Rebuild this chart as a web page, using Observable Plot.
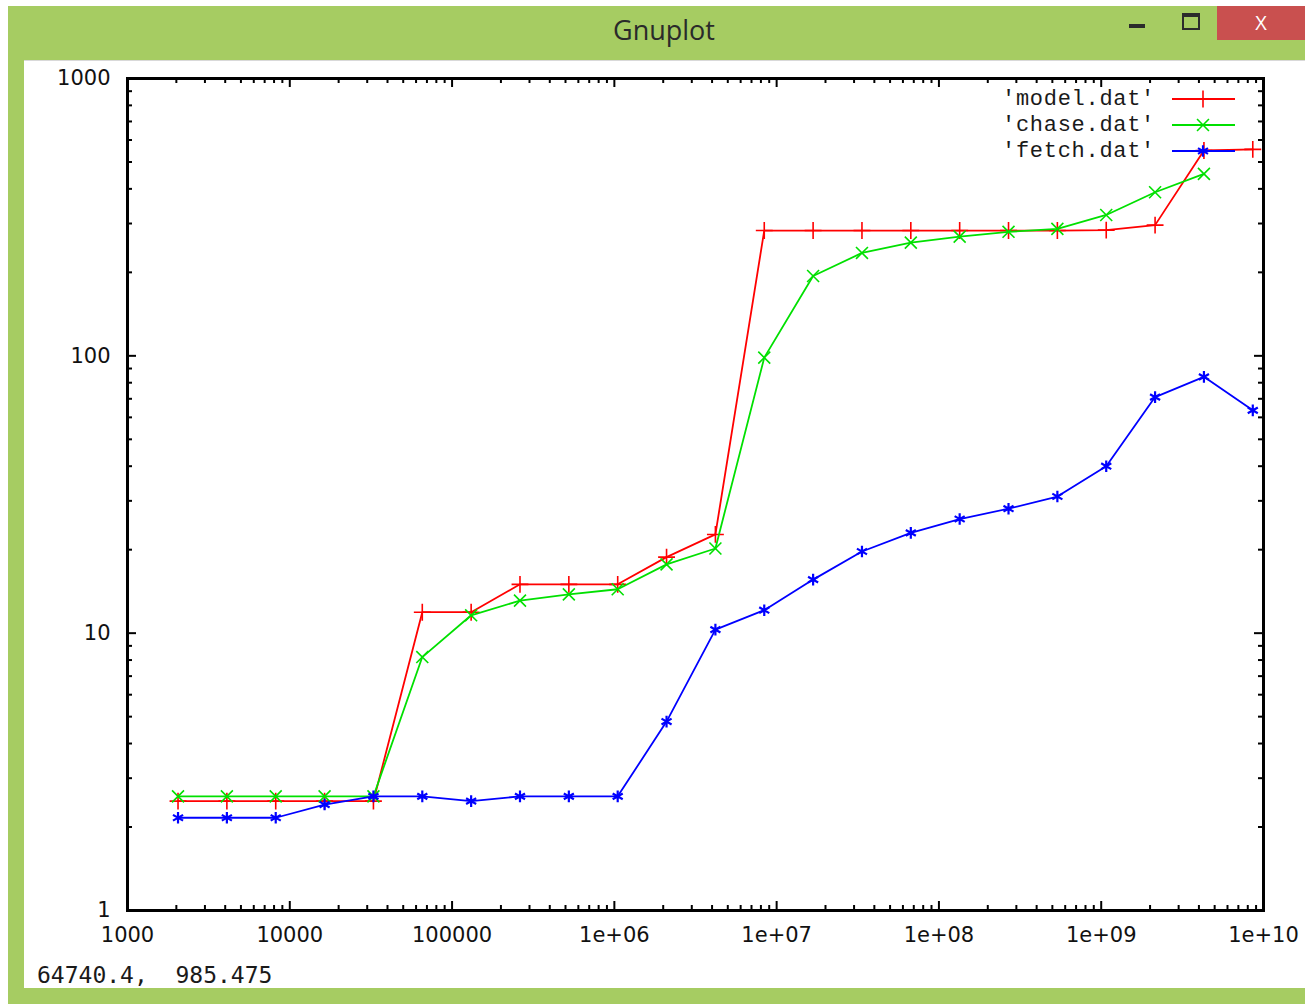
<!DOCTYPE html>
<html>
<head>
<meta charset="utf-8">
<script src="https://cdn.jsdelivr.net/npm/d3@7"></script>
<script src="https://cdn.jsdelivr.net/npm/@observablehq/plot@0.6"></script>
<style>
  html, body { margin: 0; padding: 0; background: #ffffff; }
  body { width: 1305px; height: 1005px; position: relative; overflow: hidden; font-family: "DejaVu Sans", sans-serif; }
  #win { position: absolute; left: 8px; top: 6px; width: 1297px; height: 998px; background: #a6cc62; }
  #title { position: absolute; left: 514px; top: 12px; width: 300px; text-align: center; font-family: "Open Sans", sans-serif; font-size: 27px; color: #2a2a2a; line-height: 36px; }
  #min { position: absolute; left: 1129px; top: 24px; width: 16px; height: 4px; background: #2b2b2b; }
  #max { position: absolute; left: 1182px; top: 13px; width: 14px; height: 11px; border: 2px solid #2b2b2b; border-top-width: 4px; }
  #close { position: absolute; left: 1217px; top: 6px; width: 88px; height: 34px; background: #c9504f; color: #ffffff; font-family: "Open Sans", sans-serif; font-size: 20px; text-align: center; line-height: 33px; }
  #content { position: absolute; left: 24px; top: 60px; width: 1281px; height: 928px; background: #ffffff; border-top: 1px solid #d9d9d9; box-sizing: border-box; }
  #plot { position: absolute; left: 24px; top: 60px; }
  #status { position: absolute; left: 37px; top: 962px; font-family: "DejaVu Sans Mono", monospace; font-size: 23px; color: #1a1a1a; white-space: pre; }
  #legend { position: absolute; left: 0; top: 0; pointer-events: none; }
</style>
</head>
<body>
<div id="win"></div>
<div id="title">Gnuplot</div>
<div id="min"></div>
<div id="max"></div>
<div id="close">X</div>
<div id="content"></div>
<div id="plot"></div>
<div id="status">64740.4,  985.475</div>
<svg id="legend" width="1305" height="1005"></svg>
<script>
// ---- data ----
const sizes = [2048, 4096, 8192, 16384, 32768, 65536, 131072, 262144, 524288, 1048576,
  2097152, 4194304, 8388608, 16777216, 33554432, 67108864, 134217728, 268435456,
  536870912, 1073741824, 2147483648, 4294967296, 8589934592];
const modelVals = [2.48, 2.48, 2.48, 2.48, 2.48, 11.9, 11.9, 15, 15, 15,
  18.8, 22.7, 283, 283, 283, 283, 283, 283, 283, 284, 296, 550, 555];
const chaseVals = [2.58, 2.58, 2.58, 2.58, 2.58, 8.2, 11.6, 13.1, 13.8, 14.4,
  17.7, 20.2, 98.5, 194, 235, 256, 269, 280, 287, 322, 389, 453];
const fetchVals = [2.16, 2.16, 2.16, 2.41, 2.58, 2.58, 2.48, 2.58, 2.58, 2.58,
  4.8, 10.3, 12.1, 15.6, 19.7, 23.0, 25.8, 28.1, 31.1, 40, 71, 84, 63.6];

const seriesNames = ["'model.dat'", "'chase.dat'", "'fetch.dat'"];
const seriesColors = ["#ff0000", "#00e000", "#0000ff"];
const seriesSymbols = ["plus", "times", "asterisk"];

const xTickValues = [1e3, 1e4, 1e5, 1e6, 1e7, 1e8, 1e9, 1e10];
const xTickLabels = ["1000", "10000", "100000", "1e+06", "1e+07", "1e+08", "1e+09", "1e+10"];
const yTickValues = [1, 10, 100, 1000];
const yTickLabels = ["1", "10", "100", "1000"];

// ---- build tables ----
const toRows = (vals) => vals.map((v, i) => ({x: sizes[i], y: v}));
const series = [modelVals, chaseVals, fetchVals].map(toRows);

const xMinor = d3.scaleLog().domain([1e3, 1e10]).ticks().filter(d => !xTickValues.includes(d));
const yMinor = d3.scaleLog().domain([1, 1000]).ticks().filter(d => !yTickValues.includes(d));
const xLab = new Map(xTickValues.map((v, i) => [v, xTickLabels[i]]));
const yLab = new Map(yTickValues.map((v, i) => [v, yTickLabels[i]]));

const W = 1281, H = 928, mL = 103, mR = 42, mT = 18, mB = 78;
const fw = W - mL - mR, fh = H - mT - mB;
const majorLen = 9, minorLen = 5;

const tickStyle = {stroke: "#000", strokeWidth: 2};
const marks = [
  // ticks (inward, mirrored)
  Plot.tickX(xTickValues, {x: d => d, insetTop: fh - majorLen, ...tickStyle}),
  Plot.tickX(xTickValues, {x: d => d, insetBottom: fh - majorLen, ...tickStyle}),
  Plot.tickX(xMinor, {x: d => d, insetTop: fh - minorLen, ...tickStyle}),
  Plot.tickX(xMinor, {x: d => d, insetBottom: fh - minorLen, ...tickStyle}),
  Plot.tickY(yTickValues, {y: d => d, insetRight: fw - majorLen, ...tickStyle}),
  Plot.tickY(yTickValues, {y: d => d, insetLeft: fw - majorLen, ...tickStyle}),
  Plot.tickY(yMinor, {y: d => d, insetRight: fw - minorLen, ...tickStyle}),
  Plot.tickY(yMinor, {y: d => d, insetLeft: fw - minorLen, ...tickStyle}),
  Plot.axisX(xTickValues, {tickSize: 0, tickPadding: 17, tickFormat: d => xLab.get(d), label: null, fontSize: 21, fill: "#111"}),
  Plot.axisY(yTickValues, {tickSize: 0, tickPadding: 17, tickFormat: d => yLab.get(d), label: null, fontSize: 21, fill: "#111"}),
];
series.forEach((rows, i) => {
  marks.push(Plot.line(rows, {x: "x", y: "y", stroke: seriesColors[i], strokeWidth: 1.8}));
  marks.push(Plot.dot(rows, {x: "x", y: "y", symbol: seriesSymbols[i], r: 5.5, stroke: seriesColors[i], strokeWidth: i === 2 ? 2.2 : 1.6}));
});
marks.push(Plot.frame({stroke: "#000", strokeWidth: 3}));

const chart = Plot.plot({
  width: W, height: H,
  marginLeft: mL, marginRight: mR, marginTop: mT, marginBottom: mB,
  x: {type: "log", domain: [1e3, 1e10]},
  y: {type: "log", domain: [1, 1000]},
  style: {fontFamily: "DejaVu Sans, sans-serif", fontSize: "21px", background: "transparent", overflow: "visible", color: "#111"},
  marks
});
document.getElementById("plot").appendChild(chart);

// ---- legend (gnuplot key, top right inside frame) ----
const leg = d3.select("#legend");
const rowY = [99, 125, 151];
const symMap = {plus: d3.symbolPlus, times: d3.symbolTimes, asterisk: d3.symbolAsterisk};
seriesNames.forEach((name, i) => {
  const g = leg.append("g");
  g.append("text").attr("x", 1155).attr("y", rowY[i]).attr("text-anchor", "end")
    .attr("dominant-baseline", "central")
    .style("font-family", "'Liberation Mono', 'DejaVu Sans Mono', monospace")
    .style("font-size", "22px").style("letter-spacing", "0.7px").attr("fill", "#1a1a1a")
    .text(name);
  g.append("line").attr("x1", 1172).attr("x2", 1235).attr("y1", rowY[i]).attr("y2", rowY[i])
    .attr("stroke", seriesColors[i]).attr("stroke-width", 1.8);
  g.append("path").attr("transform", `translate(1203,${rowY[i]})`)
    .attr("d", d3.symbol(symMap[seriesSymbols[i]], Math.PI * 30)())
    .attr("fill", "none").attr("stroke", seriesColors[i]).attr("stroke-width", i === 2 ? 2.2 : 1.6);
});
</script>
</body>
</html>
